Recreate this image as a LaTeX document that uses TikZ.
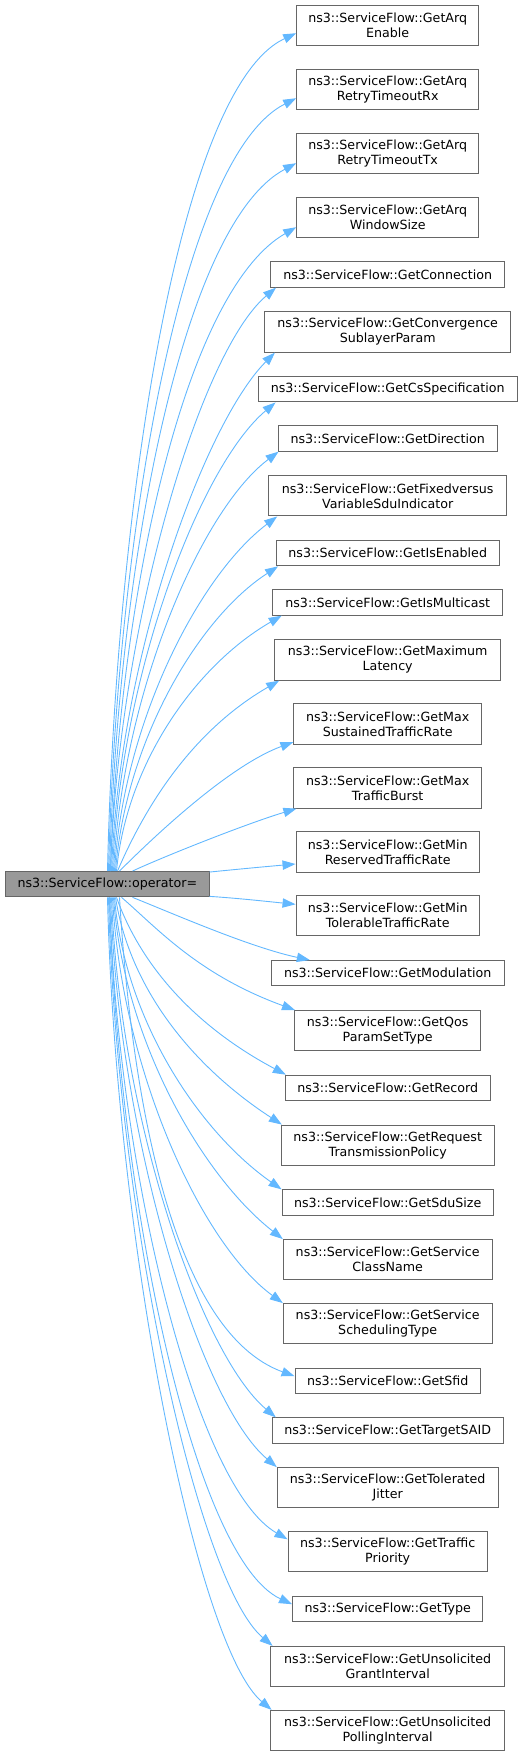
\documentclass[tikz,border=0pt]{standalone}
\usepackage{fontspec}
\setmainfont{DejaVu Sans}
\usetikzlibrary{arrows.meta}
\definecolor{edgeblue}{HTML}{63B8FF}
\definecolor{boxline}{HTML}{666666}
\definecolor{mainfill}{HTML}{999999}
\begin{document}
\begin{tikzpicture}[x=1pt,y=-1pt,
  fnbox/.style={draw=boxline, line width=1pt, fill=white, inner sep=0pt, align=center,
    font=\fontsize{12.65}{15}\selectfont, minimum height=25.3pt},
  twoline/.style={minimum height=40.3pt},
  mainbox/.style={fnbox, fill=mainfill},
  call/.style={draw=edgeblue, line width=0.9pt, -{Triangle[length=13pt,width=9.3pt]}}]
\useasboundingbox (0,0) rectangle (525,1756);
% main node
\node[mainbox, minimum width=203.3pt] (main) at (107.35,884.2) {ns3::ServiceFlow::operator=};
% targets
\node[fnbox, twoline, minimum width=182pt] (t1) at (387.7,25.2) {ns3::ServiceFlow::GetArq\\Enable};
\node[fnbox, twoline, minimum width=182pt] (t2) at (387.7,89.2) {ns3::ServiceFlow::GetArq\\RetryTimeoutRx};
\node[fnbox, twoline, minimum width=182pt] (t3) at (387.7,153.2) {ns3::ServiceFlow::GetArq\\RetryTimeoutTx};
\node[fnbox, twoline, minimum width=182pt] (t4) at (387.7,217.2) {ns3::ServiceFlow::GetArq\\WindowSize};
\node[fnbox, minimum width=234.3pt] (t5) at (387.7,274.5) {ns3::ServiceFlow::GetConnection};
\node[fnbox, twoline, minimum width=246pt] (t6) at (387.7,332) {ns3::ServiceFlow::GetConvergence\\SublayerParam};
\node[fnbox, minimum width=258.7pt] (t7) at (387.7,389.3) {ns3::ServiceFlow::GetCsSpecification};
\node[fnbox, minimum width=219.3pt] (t8) at (387.7,438.5) {ns3::ServiceFlow::GetDirection};
\node[fnbox, twoline, minimum width=238pt] (t9) at (387.7,495.8) {ns3::ServiceFlow::GetFixedversus\\VariableSduIndicator};
\node[fnbox, minimum width=223.3pt] (t10) at (387.7,553.2) {ns3::ServiceFlow::GetIsEnabled};
\node[fnbox, minimum width=230pt] (t11) at (387.7,602.5) {ns3::ServiceFlow::GetIsMulticast};
\node[fnbox, twoline, minimum width=226pt] (t12) at (387.7,660) {ns3::ServiceFlow::GetMaximum\\Latency};
\node[fnbox, twoline, minimum width=187.6pt] (t13) at (387.7,724) {ns3::ServiceFlow::GetMax\\SustainedTrafficRate};
\node[fnbox, twoline, minimum width=187.6pt] (t14) at (387.7,788) {ns3::ServiceFlow::GetMax\\TrafficBurst};
\node[fnbox, twoline, minimum width=183.3pt] (t15) at (387.7,852) {ns3::ServiceFlow::GetMin\\ReservedTrafficRate};
\node[fnbox, twoline, minimum width=183.3pt] (t16) at (387.7,915.7) {ns3::ServiceFlow::GetMin\\TolerableTrafficRate};
\node[fnbox, minimum width=232.7pt] (t17) at (387.7,973.2) {ns3::ServiceFlow::GetModulation};
\node[fnbox, twoline, minimum width=186.4pt] (t18) at (387.7,1030.7) {ns3::ServiceFlow::GetQos\\ParamSetType};
\node[fnbox, minimum width=204.7pt] (t19) at (387.7,1087.8) {ns3::ServiceFlow::GetRecord};
\node[fnbox, twoline, minimum width=212.7pt] (t20) at (387.7,1145.2) {ns3::ServiceFlow::GetRequest\\TransmissionPolicy};
\node[fnbox, minimum width=211.3pt] (t21) at (387.7,1202.5) {ns3::ServiceFlow::GetSduSize};
\node[fnbox, twoline, minimum width=208.7pt] (t22) at (387.7,1259.7) {ns3::ServiceFlow::GetService\\ClassName};
\node[fnbox, twoline, minimum width=208.7pt] (t23) at (387.7,1323.7) {ns3::ServiceFlow::GetService\\SchedulingType};
\node[fnbox, minimum width=185.3pt] (t24) at (387.7,1381.2) {ns3::ServiceFlow::GetSfid};
\node[fnbox, minimum width=231.3pt] (t25) at (387.7,1430.5) {ns3::ServiceFlow::GetTargetSAID};
\node[fnbox, twoline, minimum width=220.7pt] (t26) at (387.7,1487.8) {ns3::ServiceFlow::GetTolerated\\Jitter};
\node[fnbox, twoline, minimum width=199.3pt] (t27) at (387.7,1551.8) {ns3::ServiceFlow::GetTraffic\\Priority};
\node[fnbox, minimum width=190.4pt] (t28) at (387.7,1609.2) {ns3::ServiceFlow::GetType};
\node[fnbox, twoline, minimum width=234pt] (t29) at (387.7,1666.5) {ns3::ServiceFlow::GetUnsolicited\\GrantInterval};
\node[fnbox, twoline, minimum width=234pt] (t30) at (387.7,1730.5) {ns3::ServiceFlow::GetUnsolicited\\PollingInterval};
% upper edges
\draw[call] ([xshift=102.3pt]main.north west) .. controls +(8,-352) and +(-119.6,55.8) .. ([yshift=-8pt]t1.west);
\draw[call] ([xshift=103.3pt]main.north west) .. controls +(8,-325) and +(-117.3,59.7) .. ([yshift=-9pt]t2.west);
\draw[call] ([xshift=104.3pt]main.north west) .. controls +(8,-298) and +(-115.7,61.5) .. ([yshift=-10pt]t3.west);
\draw[call] ([xshift=105.3pt]main.north west) .. controls +(8,-271) and +(-112.6,65) .. ([yshift=-10pt]t4.west);
\draw[call] ([xshift=105.3pt]main.north west) .. controls +(8,-246) and +(-75.8,63.6) .. ([xshift=6pt]t5.south west);
\draw[call] ([xshift=106.3pt]main.north west) .. controls +(8,-218) and +(-69.3,69.3) .. ([xshift=10.7pt]t6.south west);
\draw[call] ([xshift=107.3pt]main.north west) .. controls +(8,-197) and +(-75.1,63) .. ([xshift=17.7pt]t7.south west);
\draw[call] ([xshift=108.3pt]main.north west) .. controls +(9,-177) and +(-78.3,59) .. ([xshift=1pt]t8.south west);
\draw[call] ([xshift=109.3pt]main.north west) .. controls +(9,-150) and +(-77.5,58.4) .. ([xshift=9pt]t9.south west);
\draw[call] ([xshift=110.3pt]main.north west) .. controls +(10,-128) and +(-81.4,52.9) .. ([xshift=2.5pt]t10.south west);
\draw[call] ([xshift=111.3pt]main.north west) .. controls +(10,-108) and +(-85.7,49.5) .. ([xshift=9.5pt]t11.south west);
\draw[call] ([xshift=112.3pt]main.north west) .. controls +(30,-70) and +(-84,48.5) .. ([xshift=5pt]t12.south west);
\draw[call] ([xshift=114.3pt]main.north west) .. controls +(45,-45) and +(-60,22) .. ([yshift=-18pt]t13.west);
\draw[call] ([xshift=127.3pt]main.north west) .. controls +(30,-14) and +(-50,15) .. ([xshift=3pt]t14.south west);
\draw[call] ([yshift=-1pt]main.north east) .. controls +(30,-3) and +(-30,2.6) .. ([yshift=-12pt]t15.west);
\draw[call] ([yshift=1pt]main.south east) .. controls +(30,2) and +(-30,-3) .. ([yshift=11.4pt]t16.west);
% lower edges
\draw[call] ([xshift=127.3pt]main.south west) .. controls +(40,16) and +(-59.7,-12.7) .. ([xshift=39pt]t17.north west);
\draw[call] ([xshift=116.3pt]main.south west) .. controls +(35,30) and +(-97.7,-35.6) .. ([xshift=1pt]t18.north west);
\draw[call] ([xshift=111.3pt]main.south west) .. controls +(25,70) and +(-89.2,-47.4) .. ([xshift=1pt]t19.north west);
\draw[call] ([xshift=110.3pt]main.south west) .. controls +(15,96) and +(-83.9,-54.5) .. ([xshift=1pt]t20.north west);
\draw[call] ([xshift=109.3pt]main.south west) .. controls +(10,123) and +(-82,-57.4) .. (t21.north west);
\draw[call] ([xshift=108.3pt]main.south west) .. controls +(10,144) and +(-79.6,-62.2) .. (t22.north west);
\draw[call] ([xshift=107.3pt]main.south west) .. controls +(9,171) and +(-82.5,-60) .. (t23.north west);
\draw[call] ([xshift=114.3pt]main.south west) .. controls +(12,201) and +(-122.2,-44.5) .. ([yshift=5pt]t24.west);
\draw[call] ([xshift=106.3pt]main.south west) .. controls +(8,219) and +(-75,-63) .. ([xshift=4.3pt]t25.north west);
\draw[call] ([xshift=105.3pt]main.south west) .. controls +(8,240) and +(-76.6,-64.3) .. (t26.north west);
\draw[call] ([xshift=104.3pt]main.south west) .. controls +(8,270) and +(-92.7,-53.5) .. ([yshift=12.5pt]t27.west);
\draw[call] ([xshift=104.3pt]main.south west) .. controls +(8,297) and +(-98.8,-46) .. ([yshift=5pt]t28.west);
\draw[call] ([xshift=103.3pt]main.south west) .. controls +(8,315) and +(-75,-63) .. ([xshift=2.4pt]t29.north west);
\draw[call] ([xshift=102.3pt]main.south west) .. controls +(8,342) and +(-75,-63) .. ([xshift=1.4pt]t30.north west);
\end{tikzpicture}
\end{document}
